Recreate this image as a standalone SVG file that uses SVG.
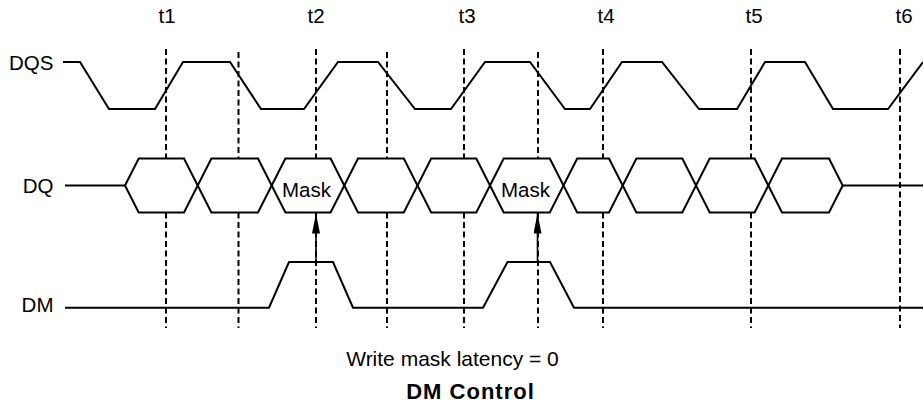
<svg xmlns="http://www.w3.org/2000/svg" width="923" height="403" viewBox="0 0 923 403">
<defs>
<style>
.sig{fill:none;stroke:#000;stroke-width:2;stroke-linejoin:miter}
.eye{fill:none;stroke:#000;stroke-width:2}
.dash{stroke:#000;stroke-width:2;stroke-dasharray:6 3.5}
.arr{stroke:#000;stroke-width:1.6;fill:none}
.lbl{font-family:"Liberation Sans",Arial,sans-serif;font-size:20.5px;fill:#000}
.title{font-family:"Liberation Sans",Arial,sans-serif;font-size:22px;font-weight:bold;fill:#000;letter-spacing:1px}
</style>
<marker id="ah" viewBox="0 0 20 8" refX="20" refY="4" markerWidth="20" markerHeight="8" markerUnits="userSpaceOnUse" orient="auto">
<path d="M0,0 L20,4 L0,8 Z" fill="#000"/>
</marker>
</defs>
<rect width="923" height="403" fill="#fff"/>
<g id="time-labels">
<text class="lbl" x="167" y="23" text-anchor="middle">t1</text>
<text class="lbl" x="316" y="23" text-anchor="middle">t2</text>
<text class="lbl" x="467" y="23" text-anchor="middle">t3</text>
<text class="lbl" x="606" y="23" text-anchor="middle">t4</text>
<text class="lbl" x="754" y="23" text-anchor="middle">t5</text>
<text class="lbl" x="904" y="23" text-anchor="middle">t6</text>
</g>
<g id="gridlines">
<path class="dash" d="M166,49 V158.5 M166,212.5 V328"/>
<path class="dash" d="M238.5,52 V158.5 M238.5,212.5 V328"/>
<path class="dash" d="M316,49 V158.5 M316,212.5 V328"/>
<path class="dash" d="M387,52 V158.5 M387,212.5 V328"/>
<path class="dash" d="M464,49 V158.5 M464,212.5 V328"/>
<path class="dash" d="M538,52 V158.5 M538,212.5 V328"/>
<path class="dash" d="M603,49 V158.5 M603,212.5 V328"/>
<path class="dash" d="M751,49 V158.5 M751,212.5 V328"/>
<line class="dash" x1="900" y1="49" x2="900" y2="328"/>
</g>
<g id="DQS">
<text class="lbl" x="53.5" y="70" text-anchor="end">DQS</text>
<polyline class="sig" points="63,62 80,62 109,109 155,109 183,62 230,62 261,109 304,109 338,62 378,62 415,109 451,109 485,62 530,62 565,109 590,109 622,62 662,62 699,109 737,109 765,62 805,62 833,109 888,109 923,62"/>
</g>
<g id="DQ">
<text class="lbl" x="53.5" y="193" text-anchor="end">DQ</text>
<line class="sig" x1="65" y1="185.5" x2="125" y2="185.5"/>
<line class="sig" x1="842.7" y1="185.5" x2="923" y2="185.5"/>
<polygon class="eye" points="125,185.5 138.7,158.5 184,158.5 197.7,185.5 184,212.5 138.7,212.5"/>
<polygon class="eye" points="197.7,185.5 211.4,158.5 258,158.5 271.7,185.5 258,212.5 211.4,212.5"/>
<polygon class="eye" points="271.7,185.5 285.4,158.5 330.6,158.5 344.3,185.5 330.6,212.5 285.4,212.5"/>
<polygon class="eye" points="344.3,185.5 358,158.5 403.8,158.5 417.5,185.5 403.8,212.5 358,212.5"/>
<polygon class="eye" points="417.5,185.5 431.2,158.5 476.3,158.5 490,185.5 476.3,212.5 431.2,212.5"/>
<polygon class="eye" points="490,185.5 503.7,158.5 549.8,158.5 563.5,185.5 549.8,212.5 503.7,212.5"/>
<polygon class="eye" points="563.5,185.5 577.2,158.5 609,158.5 622.7,185.5 609,212.5 577.2,212.5"/>
<polygon class="eye" points="622.7,185.5 636.4,158.5 682.3,158.5 696,185.5 682.3,212.5 636.4,212.5"/>
<polygon class="eye" points="696,185.5 709.7,158.5 754.6,158.5 768.3,185.5 754.6,212.5 709.7,212.5"/>
<polygon class="eye" points="768.3,185.5 782,158.5 829,158.5 842.7,185.5 829,212.5 782,212.5"/>
<text class="lbl" x="306.5" y="197" text-anchor="middle">Mask</text>
<text class="lbl" x="525.5" y="197" text-anchor="middle">Mask</text>
</g>
<g id="DM">
<text class="lbl" x="53.5" y="312" text-anchor="end">DM</text>
<polyline class="sig" points="65,307.7 269,307.7 289,262 333,262 353,307.7 483,307.7 507.5,262 550,262 574,307.7 923,307.7"/>
</g>
<g id="connectors">
<line class="arr" x1="316" y1="262" x2="316" y2="213.5" marker-end="url(#ah)"/>
<line class="arr" x1="537.5" y1="262" x2="537.5" y2="213.5" marker-end="url(#ah)"/>
</g>
<g id="captions">
<text class="lbl" x="452.5" y="365.5" text-anchor="middle" style="font-size:21px">Write mask latency = 0</text>
<text class="title" x="470.5" y="399" text-anchor="middle">DM Control</text>
</g>
</svg>
